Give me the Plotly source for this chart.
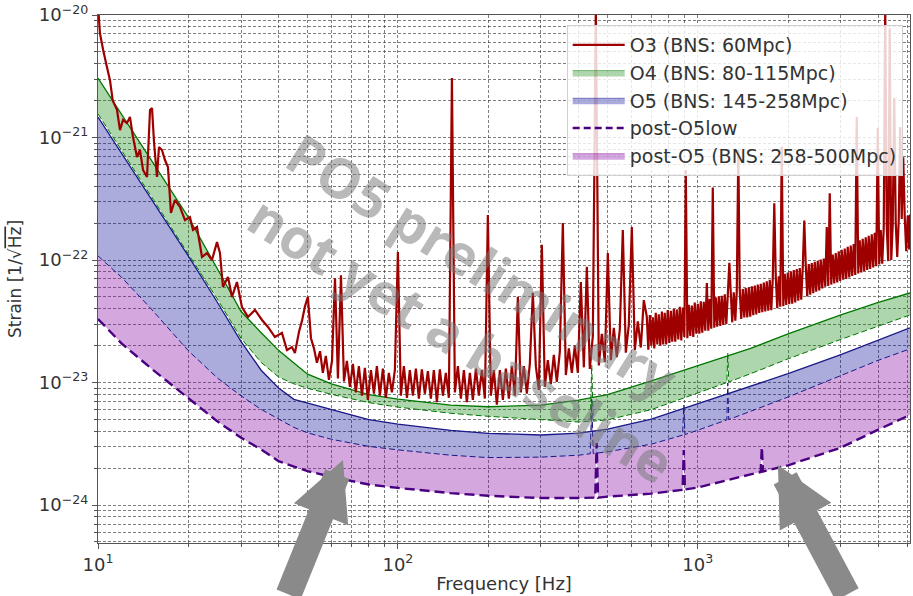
import plotly.graph_objects as go

# ---------------- data ----------------
model_freq = [10, 12, 15, 20, 25, 30, 35, 40, 45, 50, 60, 80, 100, 150, 200, 300, 400, 500,
              700, 1000, 1500, 2000, 3000, 4000, 5000, 5100]

o4_high = [3.06e-21, 1.54e-21, 6.67e-22, 2.24e-22, 8.49e-23, 3.80e-23, 2.55e-23, 1.83e-23,
           1.44e-23, 1.17e-23, 9.73e-24, 7.96e-24, 7.33e-24, 6.53e-24, 6.34e-24, 6.53e-24,
           7.17e-24, 7.98e-24, 1.03e-23, 1.38e-23, 1.90e-23, 2.49e-23, 3.56e-23, 4.51e-23,
           5.31e-23, 5.38e-23]

o5_high = [1.47e-21, 7.40e-22, 3.21e-22, 1.08e-22, 4.52e-23, 2.16e-23, 1.26e-23, 9.02e-24,
           7.29e-24, 6.80e-24, 6.03e-24, 4.98e-24, 4.57e-24, 4.07e-24, 3.85e-24, 3.73e-24,
           3.86e-24, 4.17e-24, 5.03e-24, 6.74e-24, 9.31e-24, 1.18e-23, 1.69e-23, 2.23e-23,
           2.74e-23, 2.79e-23]

o4_low_freq = [10, 12, 15, 20, 25, 30, 35, 40, 45, 50, 60, 80, 100, 150, 200, 300, 400, 438,
               443, 448, 500, 700, 1000, 1250, 1259, 1268, 1500, 2000, 3000, 4000, 5000, 5100]
o4_low = [1.56e-21, 7.83e-22, 3.40e-22, 1.14e-22, 4.81e-23, 2.29e-23, 1.46e-23, 1.11e-23,
          9.75e-24, 8.97e-24, 8.01e-24, 6.85e-24, 6.30e-24, 5.61e-24, 5.30e-24, 4.98e-24,
          4.76e-24, 4.83e-24, 1.39e-23, 4.84e-24, 4.96e-24, 6.01e-24, 8.18e-24, 1.00e-23,
          1.74e-23, 1.01e-23, 1.18e-23, 1.56e-23, 2.25e-23, 2.91e-23, 3.50e-23, 3.56e-23]

o5_low_freq = [10, 12, 15, 20, 25, 30, 35, 40, 45, 50, 60, 80, 100, 150, 200, 300, 400, 438,
               443, 448, 500, 700, 890, 898, 906, 1000, 1250, 1259, 1268, 1500, 2000, 3000,
               4000, 5000, 5100]
o5_low = [1.08e-22, 7.20e-23, 4.02e-23, 1.82e-23, 1.09e-23, 7.78e-24, 6.03e-24, 5.01e-24,
          4.30e-24, 3.88e-24, 3.44e-24, 3.01e-24, 2.82e-24, 2.55e-24, 2.44e-24, 2.46e-24,
          2.55e-24, 2.62e-24, 7.30e-24, 2.63e-24, 2.72e-24, 3.14e-24, 3.72e-24, 6.55e-24,
          3.76e-24, 4.08e-24, 4.95e-24, 9.90e-24, 4.99e-24, 5.82e-24, 7.62e-24, 1.14e-23,
          1.52e-23, 1.85e-23, 1.88e-23]

post_o5_low_freq = [10, 12, 15, 20, 25, 30, 35, 40, 45, 50, 60, 80, 100, 150, 200, 300, 400,
                    455, 460, 465, 500, 700, 890, 898, 906, 1000, 1500, 1620, 1635, 1650, 2000,
                    3000, 4000, 5000, 5100]
post_o5_low = [3.30e-23, 2.08e-23, 1.31e-23, 7.52e-24, 4.82e-24, 3.54e-24, 2.84e-24, 2.28e-24,
               2.06e-24, 1.89e-24, 1.70e-24, 1.47e-24, 1.38e-24, 1.25e-24, 1.19e-24, 1.14e-24,
               1.14e-24, 1.15e-24, 3.21e-24, 1.15e-24, 1.17e-24, 1.24e-24, 1.33e-24, 2.81e-24,
               1.34e-24, 1.39e-24, 1.78e-24, 1.86e-24, 2.97e-24, 1.88e-24, 2.11e-24, 2.94e-24,
               4.13e-24, 5.32e-24, 5.43e-24]

# O3 measured noise: frequency [Hz] and strain in units of 1e-23 / sqrt(Hz)
o3_freq = [
    10.0, 10.15, 10.4, 10.7, 10.96, 11.2, 11.57, 11.84, 12.12, 12.49, 12.78, 13.08, 13.49,
    13.80, 14.13, 14.57, 14.91, 15.14, 15.38, 15.73, 15.97, 16.34, 16.72, 17.11, 17.51,
    18.05, 18.76, 19.50, 20.26, 20.73, 21.38, 22.22, 23.09, 23.99, 24.93, 25.51, 26.10,
    27.13, 27.97, 29.06, 30.20, 31.62, 33.37, 35.22, 36.88, 38.90, 41.06, 42.66, 44.33, 45.36,
    46.8, 47.9, 49.0, 50.1, 51.3, 52.5, 53.7, 55.0, 56.2, 57.5,
    58.9, 60.3, 61.7, 63.1, 64.6, 66.1, 67.6, 69.2, 70.8, 72.4,
    74.1, 75.9, 77.6, 79.4, 81.3, 83.2, 85.1, 87.1, 89.1, 91.2,
    93.3, 95.5, 97.7, 100, 102.3, 104.7, 107.2, 109.6, 112.2, 114.8,
    117.5, 120.2, 123.0, 125.9, 128.8, 131.8, 134.9, 138.0, 141.3, 144.5,
    147.9, 151.4, 154.9, 158.5, 162.2, 166.0, 169.8, 173.8, 177.8, 182.0,
    186.2, 190.5, 195.0, 199.5, 204.2, 208.9, 213.8, 218.8, 223.9, 229.1,
    234.4, 239.9, 245.5, 251.2, 257.0, 263.0, 269.2, 275.4, 281.8, 288.4,
    295.1, 302.0, 309.0, 316.2, 323.6, 331.1, 338.8, 346.7, 354.8, 363.1,
    371.5, 380.2, 389.0, 398.1, 407.4, 416.9, 426.6, 436.5, 446.7, 457.1,
    467.7, 478.6, 489.8, 501.2, 512.9, 524.8, 537.0, 549.5, 562.3, 575.4,
    588.8, 602.6, 616.6, 631.0, 645.7, 660.7,
    676, 684, 692, 700, 708, 716, 724, 733, 741, 750,
    759, 767, 776, 785, 794, 804, 813, 822, 832, 841,
    851, 861, 871, 881, 891, 902, 912, 923, 933, 944,
    955, 966, 977, 989, 1000, 1012, 1023, 1035, 1047, 1059,
    1072, 1084, 1096, 1109, 1122, 1135, 1148, 1161, 1175, 1189,
    1202, 1216, 1230, 1245, 1259, 1274, 1288, 1303, 1318, 1334,
    1349, 1365, 1380, 1396, 1413, 1429, 1445, 1462, 1479, 1496,
    1514, 1531, 1549, 1567, 1585, 1603, 1622, 1641, 1660, 1679,
    1698, 1718, 1738, 1758, 1778, 1799, 1820, 1841, 1862, 1884,
    1905, 1928, 1950, 1972, 1995, 2018, 2042, 2065, 2089, 2113,
    2138, 2163, 2188, 2213, 2239, 2265, 2291, 2317, 2344, 2371,
    2399, 2427, 2455, 2483, 2512, 2541, 2570, 2600, 2630, 2661,
    2692, 2723, 2754, 2786, 2818, 2851, 2884, 2917, 2951, 2985,
    3020, 3055, 3090, 3126, 3162, 3199, 3236, 3273, 3311, 3350,
    3388, 3428, 3467, 3508, 3548, 3589, 3631, 3673, 3715, 3758,
    3802, 3846, 3890, 3936, 3981, 4027, 4074, 4121, 4169, 4217,
    4266, 4315, 4365, 4416, 4467, 4519, 4571, 4624, 4677, 4732,
    4786, 4842, 4898, 4955, 5012, 5070, 5093]

o3_strain_e23 = [
    1200, 710, 520, 380, 295, 200, 168, 115, 139, 131, 147, 101, 69.3, 79.1, 54.3, 47.6,
    168, 174, 90.2, 47.6, 83.6, 79.1, 65.5, 57.4, 24.2, 30.9, 27.1, 21.2, 22.4, 17.6, 18.6,
    10.6, 11.4, 10.0, 14.0, 11.4, 6.02, 7.27, 4.99, 6.61, 4.13, 3.43, 3.91, 3.24, 2.84, 2.35,
    2.54, 1.84, 1.95, 1.74,
    2.6, 3.2, 4.2, 5.0, 2.3, 1.9, 1.45, 1.8, 1.2, 1.65,
    1.05, 1.5, 7.1, 1.08, 7.5, 1.02, 1.5, 0.92, 1.42, 0.83,
    1.36, 0.78, 1.32, 0.72, 1.26, 0.81, 1.36, 0.78, 1.3, 0.75,
    1.2, 0.83, 1.26, 11.6, 0.78, 1.36, 0.75, 1.26, 0.78, 1.3,
    0.74, 1.28, 0.81, 1.24, 0.74, 1.26, 0.69, 1.28, 0.78, 1.2,
    0.75, 306, 0.83, 1.36, 0.74, 1.26, 0.69, 1.2, 0.72, 1.3,
    0.78, 1.26, 0.74, 23.3, 0.78, 1.26, 0.66, 1.26, 0.72, 1.3,
    0.74, 1.36, 0.78, 5.0, 0.83, 1.36, 0.81, 1.42, 5.4, 1.36,
    0.87, 13.3, 0.92, 1.52, 0.97, 1.68, 1.01, 1.78, 20, 1.15,
    1.9, 1.2, 2.0, 1.2, 6.6, 1.33, 8.8, 1.29, 2.4, 1200,
    1.38, 2.5, 1.47, 11.4, 1.52, 2.8, 1.61, 2.7, 17.6, 1.75,
    2.95, 18.6, 1.84, 3.15, 1.93, 4.7,
    3.45, 1.85, 3.55, 2.0, 3.4, 1.9, 3.7, 2.05, 3.6, 2.0,
    3.8, 2.05, 3.7, 2.05, 3.9, 2.1, 3.85, 2.15, 4.0, 2.15,
    3.95, 2.25, 4.15, 2.2, 4.1, 2.35, 54, 2.3, 4.3, 2.4,
    4.25, 2.35, 4.5, 2.5, 4.4, 2.5, 4.6, 2.55, 4.55, 2.65,
    6.5, 2.65, 4.8, 2.75, 39, 2.8, 4.95, 2.85, 5.05, 2.9,
    5.1, 2.95, 5.25, 3.0, 5.2, 9.5, 5.4, 3.1, 5.45, 3.2,
    5.6, 79, 5.65, 3.3, 5.8, 3.4, 5.9, 3.4, 6.0, 3.45,
    6.1, 3.55, 6.2, 3.6, 6.3, 3.7, 6.4, 3.75, 6.55, 3.8,
    6.7, 3.85, 6.9, 3.9, 7.05, 29, 7.2, 4.05, 7.35, 4.15,
    84, 4.2, 7.7, 4.3, 7.9, 4.35, 8.1, 4.4, 8.3, 4.5,
    8.45, 4.65, 8.6, 4.75, 8.8, 21, 9.0, 5.05, 9.25, 5.2,
    9.45, 5.35, 9.65, 5.5, 9.85, 5.65, 10.1, 5.85, 10.3, 6.05,
    18.6, 6.15, 35, 6.3, 11.1, 6.45, 11.4, 6.55, 11.8, 6.75,
    12.1, 6.9, 12.4, 7.0, 12.8, 7.2, 13.1, 7.4, 13.5, 7.55,
    147, 7.75, 14.5, 7.9, 14.9, 8.1, 15.3, 8.3, 15.75, 8.45,
    16.2, 8.7, 16.7, 8.9, 120, 9.2, 17.6, 9.35, 18.2, 1200,
    18.7, 9.8, 780, 10.0, 19.5, 210, 20.2, 10.6, 20.9, 122,
    21.6, 69, 22.4, 11.8, 23.1, 12.2, 23.5]

x_tick_vals = [10, 100, 1000]
x_tick_text = ["10<sup>1</sup>", "10<sup>2</sup>", "10<sup>3</sup>"]
y_tick_vals = [1e-24, 1e-23, 1e-22, 1e-21, 1e-20]
y_tick_text = ["10<sup>\u221224</sup>", "10<sup>\u221223</sup>", "10<sup>\u221222</sup>",
               "10<sup>\u221221</sup>", "10<sup>\u221220</sup>"]

legend_names = ["O3 (BNS: 60Mpc)", "O4 (BNS: 80-115Mpc)", "O5 (BNS: 145-258Mpc)",
                "post-O5low", "post-O5 (BNS: 258-500Mpc)"]

o3_strain = [v * 1e-23 for v in o3_strain_e23]

# ---------------- styling ----------------
GREEN = "rgb(0,118,0)"
GREEN_FILL = "rgba(0,128,0,0.32)"
NAVY = "rgb(25,25,135)"
BLUE_FILL = "rgba(0,0,150,0.33)"
PURPLE = "rgb(75,0,130)"
PURPLE_FILL = "rgba(128,0,160,0.34)"
RED = "rgb(158,0,0)"
FONT = "DejaVu Sans"
TXT = "#333333"

fig = go.Figure()

fig.add_trace(go.Scatter(x=model_freq, y=o4_high, mode="lines",
                         line=dict(color=GREEN, width=1.3), showlegend=False, hoverinfo="skip"))
fig.add_trace(go.Scatter(x=o4_low_freq, y=o4_low, mode="lines",
                         line=dict(color=GREEN, width=1, dash="6px,3px"),
                         fill="tonexty", fillcolor=GREEN_FILL, showlegend=False, hoverinfo="skip"))
fig.add_trace(go.Scatter(x=model_freq, y=o5_high, mode="lines",
                         line=dict(color=NAVY, width=1.3), showlegend=False, hoverinfo="skip"))
fig.add_trace(go.Scatter(x=o5_low_freq, y=o5_low, mode="lines",
                         line=dict(color=NAVY, width=1, dash="6px,3px"),
                         fill="tonexty", fillcolor=BLUE_FILL, showlegend=False, hoverinfo="skip"))
fig.add_trace(go.Scatter(x=post_o5_low_freq, y=post_o5_low, mode="lines",
                         line=dict(color=PURPLE, width=2.4, dash="10px,5px"),
                         fill="tonexty", fillcolor=PURPLE_FILL, showlegend=False, hoverinfo="skip"))
fig.add_trace(go.Scatter(x=o3_freq, y=o3_strain, mode="lines", name=legend_names[0],
                         line=dict(color=RED, width=2.2, simplify=False)))

# legend-only entries
fig.add_trace(go.Scatter(x=[None], y=[None], mode="lines", name=legend_names[1], fill="toself",
                         fillcolor=GREEN_FILL, line=dict(color="rgba(0,128,0,0.45)", width=1)))
fig.add_trace(go.Scatter(x=[None], y=[None], mode="lines", name=legend_names[2], fill="toself",
                         fillcolor=BLUE_FILL, line=dict(color="rgba(0,0,150,0.45)", width=1)))
fig.add_trace(go.Scatter(x=[None], y=[None], mode="lines", name=legend_names[3],
                         line=dict(color=PURPLE, width=2.4, dash="7px,4px")))
fig.add_trace(go.Scatter(x=[None], y=[None], mode="lines", name=legend_names[4], fill="toself",
                         fillcolor=PURPLE_FILL, line=dict(color="rgba(128,0,160,0.45)", width=1)))

grid_col = "rgba(40,40,40,0.6)"
minor_x = [m * 10 ** e for e in (1, 2, 3) for m in range(2, 10) if m * 10 ** e <= 5100]
minor_y = [m * 10.0 ** e for e in range(-25, -20) for m in range(2, 10)]

fig.update_xaxes(type="log", range=[1, 3.7076], tickmode="array", tickvals=x_tick_vals,
                 ticktext=x_tick_text, ticks="outside", ticklen=5, tickcolor="#555",
                 showgrid=True, gridcolor=grid_col, griddash="3px,2px", gridwidth=0.8,
                 minor=dict(tickmode="array", tickvals=minor_x, ticks="outside", ticklen=3,
                            tickcolor="#555", showgrid=True, gridcolor=grid_col,
                            griddash="3px,2px", gridwidth=0.7),
                 showline=True, linecolor="#555", linewidth=1.2, mirror=True, zeroline=False,
                 automargin=False,
                 tickfont=dict(family=FONT, size=18, color=TXT),
                 title=dict(text="Frequency [Hz]", font=dict(family=FONT, size=18, color=TXT),
                            standoff=3))
fig.update_yaxes(type="log", range=[-24.31, -20], tickmode="array", tickvals=y_tick_vals,
                 ticktext=y_tick_text, ticks="outside", ticklen=5, tickcolor="#555",
                 showgrid=True, gridcolor=grid_col, griddash="3px,2px", gridwidth=0.8,
                 minor=dict(tickmode="array", tickvals=minor_y, ticks="outside", ticklen=3,
                            tickcolor="#555", showgrid=True, gridcolor=grid_col,
                            griddash="3px,2px", gridwidth=0.7),
                 showline=True, linecolor="#555", linewidth=1.2, mirror=True, zeroline=False,
                 automargin=False,
                 tickfont=dict(family=FONT, size=18, color=TXT),
                 title=dict(text="Strain [1/\u221a<span style=\"text-decoration:overline\">Hz</span>]",
                            font=dict(family=FONT, size=17, color=TXT), standoff=12))

fig.update_layout(
    width=913, height=596,
    margin=dict(l=98, r=3, t=15, b=53),
    paper_bgcolor="white", plot_bgcolor="white",
    font=dict(family=FONT, color=TXT),
    legend=dict(x=0.991, y=0.981, xanchor="right", yanchor="top", traceorder="normal",
                bgcolor="rgba(255,255,255,0.82)", bordercolor="#d0d0d0", borderwidth=1,
                font=dict(family=FONT, size=19, color=TXT), itemwidth=52, tracegroupgap=0),
    showlegend=True,
)

# watermark
wm_font = dict(family="Open Sans", size=55, color="rgba(120,120,120,0.52)")
fig.add_annotation(text="<b>PO5 preliminary</b>", xref="paper", yref="paper", x=0.474, y=0.525,
                   showarrow=False, textangle=32, font=wm_font, xanchor="center", yanchor="middle")
fig.add_annotation(text="<b>not yet a baseline</b>", xref="paper", yref="paper", x=0.448, y=0.388,
                   showarrow=False, textangle=32, font=wm_font, xanchor="center", yanchor="middle")

# big gray arrows
for xa, ya, axp, ayp in [(0.3017, 0.1572, -55, 136), (0.8374, 0.1477, 70, 131)]:
    fig.add_annotation(text="", xref="paper", yref="paper", x=xa, y=ya, ax=axp, ay=ayp,
                       showarrow=True, arrowhead=2, arrowsize=0.45, arrowwidth=26,
                       arrowcolor="rgb(138,138,138)")

fig.write_html("out.html", config={"displayModeBar": False},
               post_script="document.body.style.margin='0px';")
